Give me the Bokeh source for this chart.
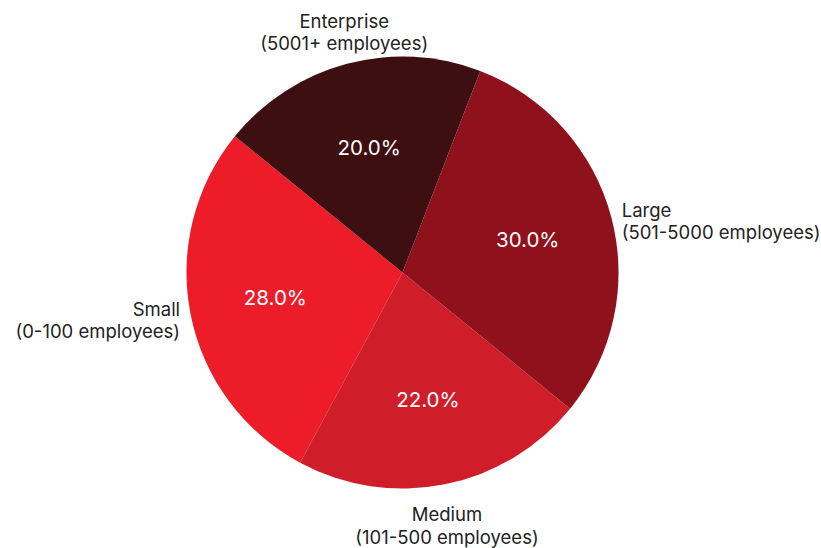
import math
from bokeh.plotting import figure
from bokeh.models import ColumnDataSource
from bokeh.core.properties import value
from bokeh.embed import file_html
from bokeh.resources import INLINE

# ---- data ----
names = ["Small", "Medium", "Large", "Enterprise"]
subtitles = ["(0-100 employees)", "(101-500 employees)", "(501-5000 employees)", "(5001+ employees)"]
shares = [28.0, 22.0, 30.0, 20.0]
colors = ["#EC1C28", "#CF1D29", "#8E111C", "#3E0F11"]

START_DEG = 140.9
W, H = 821, 548
CX, CY = 402, H - 272
R = 216
FONT = "Inter"

total = sum(shares)
starts, ends, mids = [], [], []
a = START_DEG
for s in shares:
    span = s / total * 360.0
    starts.append(math.radians(a))
    ends.append(math.radians(a + span))
    mids.append(a + span / 2)
    a += span

p = figure(width=W, height=H, x_range=(0, W), y_range=(0, H),
           output_backend="svg", toolbar_location=None, min_border=0)
p.axis.visible = False
p.grid.visible = False
p.outline_line_color = None
p.background_fill_color = "white"

src = ColumnDataSource(dict(start=starts, end=ends, color=colors))
p.wedge(x=CX, y=CY, radius=R, start_angle="start", end_angle="end",
        direction="anticlock", fill_color="color",
        line_color=None, source=src)

# percentage labels
pct_x = [CX + 0.6 * R * math.cos(math.radians(m)) for m in mids]
pct_y = [CY + 0.6 * R * math.sin(math.radians(m)) for m in mids]
pct_txt = [f"{s / total * 100:.1f}%" for s in shares]
p.text(x=pct_x, y=pct_y, text=pct_txt, text_color="white",
       text_font=value(FONT), text_font_size="20.5px",
       text_align="center", text_baseline="middle")

# outer labels (two lines each)
LINE = 22.5
lx1, ly1, lx2, ly2, al = [], [], [], [], []
for m in mids:
    c, s = math.cos(math.radians(m)), math.sin(math.radians(m))
    ax = CX + 1.05 * R * c
    ay = CY + 1.05 * R * s
    if c > 0.4:
        align = "left"
        y1, y2 = ay + LINE / 2 - 7, ay - LINE / 2 - 7
    elif c < -0.4:
        align = "right"
        y1, y2 = ay + LINE / 2 - 3, ay - LINE / 2 - 3
    else:
        align = "center"
        if s > 0:
            y1, y2 = ay + LINE * 1.5 - 1, ay + LINE * 0.5 - 1
        else:
            y1, y2 = ay - LINE * 0.5 - 8, ay - LINE * 1.5 - 8
    lx1.append(ax); ly1.append(y1); lx2.append(ax); ly2.append(y2); al.append(align)

lsrc = ColumnDataSource(dict(x1=lx1, y1=ly1, x2=lx2, y2=ly2, align=al,
                             t1=names, t2=subtitles))
p.text(x="x1", y="y1", text="t1", text_align="align", source=lsrc,
       text_color="#222222", text_font=value(FONT), text_font_size="18.5px",
       text_baseline="middle")
p.text(x="x2", y="y2", text="t2", text_align="align", source=lsrc,
       text_color="#222222", text_font=value(FONT), text_font_size="18.5px",
       text_baseline="middle")

open("out.html", "w").write(file_html(p, INLINE))
